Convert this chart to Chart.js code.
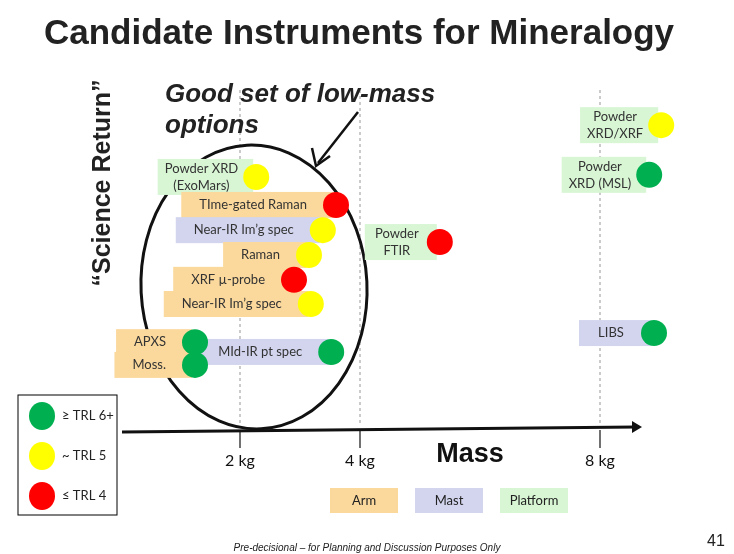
<!DOCTYPE html>
<html><head><meta charset="utf-8">
<script src="https://cdn.jsdelivr.net/npm/chart.js@4"></script>
<style>html,body{margin:0;padding:0;background:#fff}</style>
</head><body>
<canvas id="c" width="734" height="554"></canvas>
<script>
const names = ["Powder XRD/XRF","Powder XRD (MSL)","Powder XRD (ExoMars)","TIme-gated Raman","Near-IR Im’g spec","Powder FTIR","Raman","XRF µ-probe","Near-IR Im’g spec","APXS","Moss.","MId-IR pt spec","LIBS"];
const massKg = [9.02,8.82,2.27,3.6,3.38,5.33,3.15,2.9,3.18,1.25,1.25,3.52,8.9];
const scienceReturn = [8.71,7.29,7.23,6.43,5.71,5.37,5.0,4.29,3.6,2.51,1.86,2.23,2.77];
const trl = [5,6,5,4,5,4,5,4,5,6,6,6,6];
const mount = ["Platform","Platform","Platform","Arm","Mast","Platform","Arm","Arm","Arm","Arm","Arm","Mast","Mast"];
const massTicks = [2,4,8];
const tickLabels = ["2 kg","4 kg","8 kg"];
const trlLevels = [6,5,4];
const trlLabels = ["≥ TRL 6+","~ TRL 5","≤ TRL 4"];
const mountTypes = ["Arm","Mast","Platform"];

const trlColor = {6:"#00b050",5:"#ffff00",4:"#ff0000"};
const mountColor = {Arm:"#fbd99d",Mast:"#d3d5ef",Platform:"#d8f6d4"};
const lines = {"Powder XRD/XRF":["Powder","XRD/XRF"],"Powder XRD (MSL)":["Powder","XRD (MSL)"],"Powder XRD (ExoMars)":["Powder XRD","(ExoMars)"],"Powder FTIR":["Powder","FTIR"]};

const datasets = trlLevels.map(t => ({
  label: "TRL"+t,
  data: names.map((n,i)=>({x:massKg[i],y:scienceReturn[i],i})).filter(p=>trl[p.i]===t),
  backgroundColor: trlColor[t], borderWidth:0, pointRadius:13, pointHoverRadius:13
}));

const FONT = "Lato, 'Open Sans', sans-serif";
const deco = {
  id:"deco",
  beforeDatasetsDraw(ch){
    const c=ch.ctx, xs=ch.scales.x, ys=ch.scales.y;
    c.save();
    c.strokeStyle="#bbb"; c.lineWidth=1.5; c.setLineDash([3,3]);
    massTicks.forEach(v=>{const px=xs.getPixelForValue(v); c.beginPath(); c.moveTo(px,90); c.lineTo(px,425); c.stroke();});
    c.setLineDash([]);
    c.strokeStyle="#111"; c.lineWidth=3;
    c.beginPath(); c.ellipse(254,287,113,142,-0.05,0,Math.PI*2); c.stroke();
    c.font="13px "+FONT; c.textAlign="center"; c.textBaseline="middle";
    names.forEach((n,i)=>{
      const px=xs.getPixelForValue(massKg[i]), py=ys.getPixelForValue(scienceReturn[i]);
      const ls=lines[n]||[n];
      const tw=Math.max(...ls.map(l=>c.measureText(l).width));
      const w=Math.max(72, tw+(mount[i]==="Platform"?22:44));
      const h=ls.length>1?36:26;
      const right=px-3;
      c.fillStyle=mountColor[mount[i]];
      c.fillRect(right-w,py-h/2,w,h);
      c.fillStyle="#333";
      ls.forEach((l,k)=>c.fillText(l,right-w/2-4,py+(k-(ls.length-1)/2)*17));
    });
    c.restore();
  },
  afterDraw(ch){
    const c=ch.ctx, xs=ch.scales.x;
    c.save();
    c.fillStyle="#222"; c.textAlign="left"; c.textBaseline="alphabetic";
    c.font="bold 35px Arial, 'Liberation Sans'";
    c.fillText("Candidate Instruments for Mineralogy",44,44);
    c.textAlign="center";
    c.save(); c.translate(110,183); c.rotate(-Math.PI/2);
    c.font="bold 25px Arial, 'Liberation Sans'"; c.fillText("“Science Return”",0,0); c.restore();
    c.textAlign="left"; c.font="italic bold 26px Arial, 'Liberation Sans'";
    c.fillText("Good set of low-mass",165,102); c.fillText("options",165,133);
    c.strokeStyle="#111"; c.lineWidth=2.5;
    c.beginPath(); c.moveTo(358,112); c.lineTo(318,163); c.stroke();
    c.beginPath(); c.moveTo(312,148); c.lineTo(316,166); c.lineTo(330,156); c.stroke();
    c.lineWidth=3; c.beginPath(); c.moveTo(122,432); c.lineTo(636,427); c.stroke();
    c.fillStyle="#111"; c.beginPath(); c.moveTo(642,427); c.lineTo(632,421); c.lineTo(632,433); c.closePath(); c.fill();
    c.lineWidth=1.2; c.font="16px "+FONT; c.textAlign="center";
    massTicks.forEach((v,k)=>{const px=xs.getPixelForValue(v); c.beginPath(); c.moveTo(px,430); c.lineTo(px,448); c.stroke(); c.fillText(tickLabels[k],px,466);});
    c.font="bold 27px Arial, 'Liberation Sans'"; c.fillText("Mass",470,462);
    c.strokeStyle="#000"; c.lineWidth=1; c.strokeRect(18,395,99,120);
    c.textAlign="left"; c.textBaseline="middle"; c.font="13px "+FONT;
    trlLevels.forEach((t,k)=>{const y=416+k*40; c.fillStyle=trlColor[t]; c.beginPath(); c.ellipse(42,y,13,14,0,0,Math.PI*2); c.fill(); c.fillStyle="#222"; c.fillText(trlLabels[k],62,y);});
    c.textAlign="center"; c.font="13px "+FONT;
    mountTypes.forEach((m,k)=>{const x=330+k*85; c.fillStyle=mountColor[m]; c.fillRect(x,488,68,25); c.fillStyle="#222"; c.fillText(m,x+34,501);});
    c.font="italic 10px Arial, 'Liberation Sans'"; c.fillText("Pre-decisional – for Planning and Discussion Purposes Only",367,548);
    c.font="16px Arial, 'Liberation Sans'"; c.fillText("41",716,542);
    c.restore();
  }
};

new Chart(document.getElementById("c"),{
  type:"scatter",
  data:{datasets},
  options:{
    responsive:false, animation:false,
    layout:{padding:{left:120,right:44,top:80,bottom:124}},
    plugins:{legend:{display:false},tooltip:{enabled:false}},
    scales:{
      x:{type:"linear",min:0,max:9.5,display:false},
      y:{type:"linear",min:0,max:10,display:false}
    }
  },
  plugins:[deco]
});
</script>
</body></html>
